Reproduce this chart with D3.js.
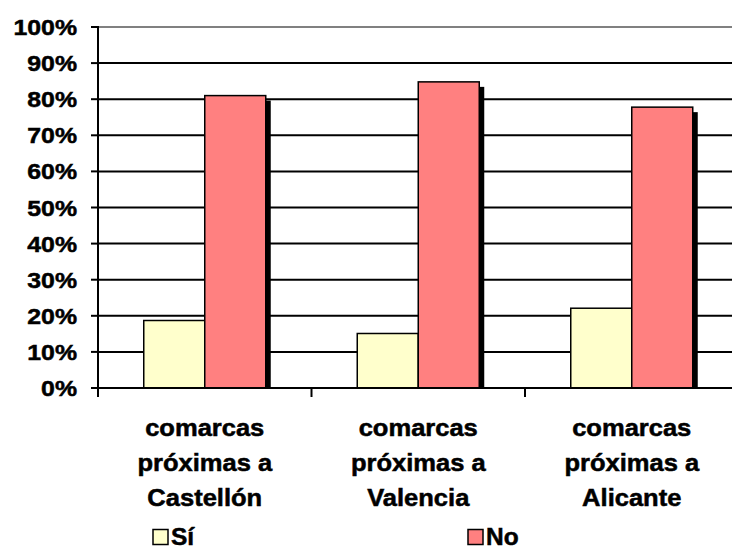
<!DOCTYPE html>
<html><head><meta charset="utf-8">
<script src="https://cdn.jsdelivr.net/npm/d3@7"></script>
<style>body{margin:0;background:#fff}svg{display:block}text{font-family:"Liberation Sans",Arial,sans-serif;font-weight:bold;fill:#000;stroke:#000;stroke-width:0.5px}</style>
</head><body><svg id="c" width="732" height="549"></svg>
<script>
const categories = [["comarcas","próximas a","Castellón"],["comarcas","próximas a","Valencia"],["comarcas","próximas a","Alicante"]];
const seriesNames = ["Sí","No"];
const siValues = [18.7, 15.1, 22.1];
const noValues = [81.0, 84.8, 77.8];
const yTicks = [0,10,20,30,40,50,60,70,80,90,100];
const colors = ["#FFFFCC","#FF8080"];

(function(){
const svg = d3.select("#c");
const pLeft = 98, pTop = 27, pBottom = 388, bandW = 213.5;
const x = d3.scaleBand().domain(d3.range(categories.length)).range([pLeft, pLeft + bandW*3]).paddingInner(0).paddingOuter(0);
const y = d3.scaleLinear().domain([0,100]).range([pBottom, pTop]);
const barW = x.bandwidth()/3.5;

// gridlines
svg.append("g").selectAll("line").data(yTicks.filter(d=>d>0)).join("line")
  .attr("x1", pLeft).attr("x2", 732).attr("y1", d=>y(d)).attr("y2", d=>y(d))
  .attr("stroke", d=>d===100?"#808080":"#000").attr("stroke-width", 2);

// bars
const data = [siValues, noValues];
const g = svg.append("g");
categories.forEach((c,i)=>{
  const x0 = x(i) + (x.bandwidth() - 2*barW)/2;
  data.forEach((vals,s)=>{
    const bx = x0 + s*barW, by = y(vals[i]);
    g.append("rect").attr("x", bx+5).attr("y", by+5).attr("width", barW).attr("height", pBottom-by-5).attr("fill","#000");
  });
  data.forEach((vals,s)=>{
    const bx = x0 + s*barW, by = y(vals[i]);
    g.append("rect").attr("x", bx).attr("y", by).attr("width", barW).attr("height", pBottom-by)
      .attr("fill", colors[s]).attr("stroke","#000").attr("stroke-width",1.5);
  });
});

// y axis
svg.append("line").attr("x1",pLeft).attr("x2",pLeft).attr("y1",pTop-1).attr("y2",pBottom+9).attr("stroke","#000").attr("stroke-width",2);
svg.append("g").selectAll("line").data(yTicks).join("line")
  .attr("x1",pLeft-7).attr("x2",pLeft).attr("y1",d=>y(d)).attr("y2",d=>y(d)).attr("stroke","#000").attr("stroke-width",2);
svg.append("g").selectAll("g").data(yTicks).join("g")
  .attr("transform", d=>`translate(77,${y(d)+8}) scale(1.13,1)`)
  .append("text").attr("text-anchor","end").attr("font-size",22).text(d=>d+"%");

// x axis
svg.append("line").attr("x1",pLeft).attr("x2",732).attr("y1",pBottom).attr("y2",pBottom).attr("stroke","#000").attr("stroke-width",2);
svg.append("g").selectAll("line").data(d3.range(categories.length)).join("line")
  .attr("x1",d=>x(d)).attr("x2",d=>x(d)).attr("y1",pBottom).attr("y2",pBottom+9).attr("stroke","#000").attr("stroke-width",2);
categories.forEach((lines,i)=>{
  const cx = x(i) + x.bandwidth()/2;
  lines.forEach((t,j)=>{
    svg.append("g").attr("transform",`translate(${cx},${436+j*35}) scale(1.11,1)`)
      .append("text").attr("text-anchor","middle").attr("font-size",23).text(t);
  });
});

// legend
const legX = [153, 468];
seriesNames.forEach((n,s)=>{
  svg.append("rect").attr("x",legX[s]).attr("y",529.5).attr("width",15).attr("height",15)
    .attr("fill",colors[s]).attr("stroke","#000").attr("stroke-width",1.5);
  svg.append("g").attr("transform",`translate(${legX[s]+18},545) scale(1.02,1)`)
    .append("text").attr("font-size",24).text(n);
});
})();
</script></body></html>
